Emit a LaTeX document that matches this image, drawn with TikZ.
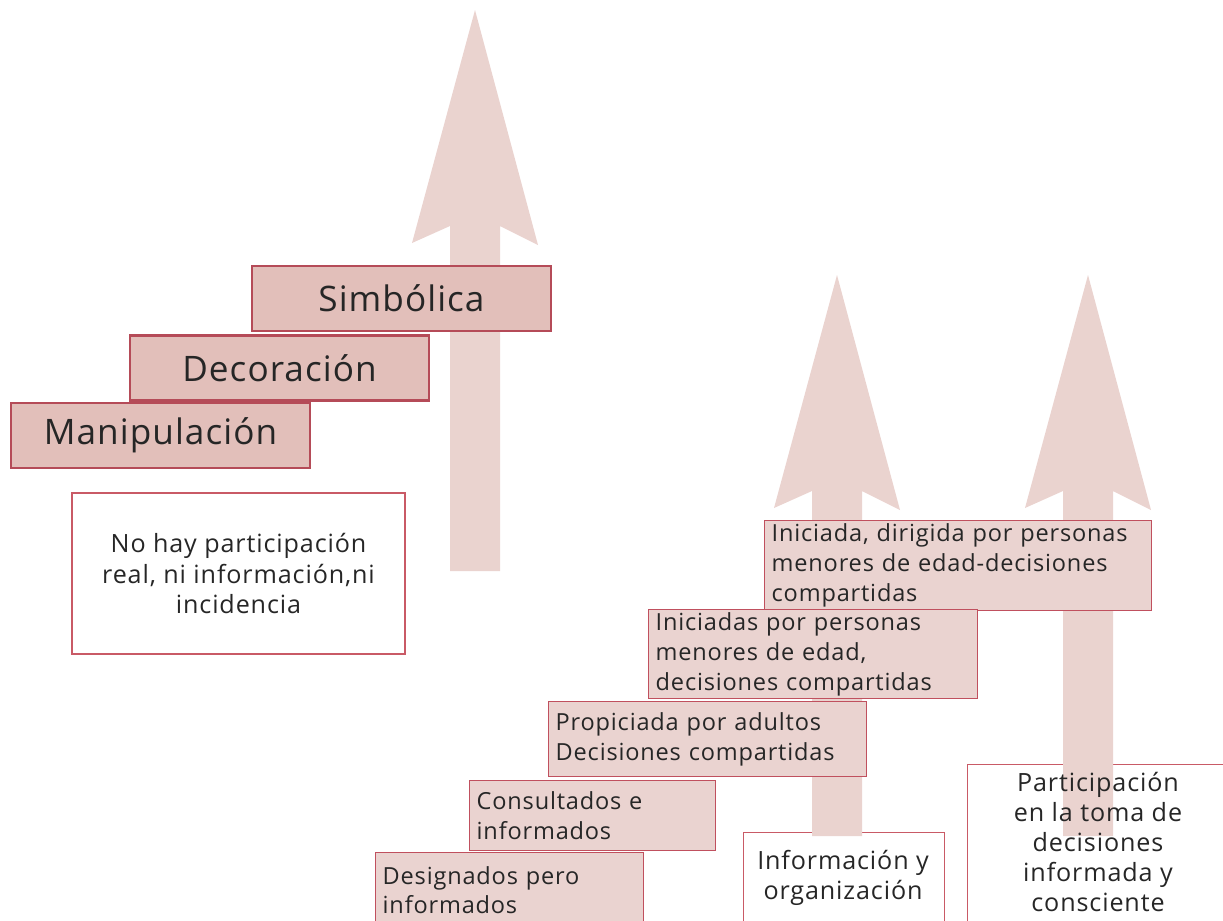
\documentclass[tikz,border=0pt]{standalone}
\usepackage{fontspec}
\setmainfont{Open Sans}
\usetikzlibrary{positioning}

\definecolor{arrowpink}{HTML}{EAD3CF}
\definecolor{stepfill}{HTML}{E2BFBA}
\definecolor{stepline}{HTML}{B54B58}
\definecolor{ladderfill}{HTML}{EAD3D0}
\definecolor{ladderline}{HTML}{C0505E}
\definecolor{frameline}{HTML}{C95A66}
\definecolor{inktext}{HTML}{262626}

\newdimen\pxu
\pxu=0.02cm

\tikzset{
  arrowbody/.style={fill=arrowpink, draw=none},
  stepbox/.style={draw=stepline, line width=1.6pt, fill=stepfill,
    minimum width=299\pxu, minimum height=65\pxu, inner sep=0pt,
    text=inktext, font=\fontsize{20}{24}\selectfont\addfontfeature{LetterSpace=3}},
  ladder/.style={draw=ladderline, line width=0.8pt, fill=ladderfill,
    anchor=north west, align=left, inner xsep=7\pxu, inner ysep=0pt,
    text=inktext, font=\fontsize{13.4}{17}\selectfont\addfontfeature{LetterSpace=3.5}},
  outframe/.style={draw=frameline, line width=0.6pt, anchor=north west, inner sep=0pt},
  outtext/.style={align=center, text=inktext,
    font=\fontsize{14.3}{17.2}\selectfont\addfontfeature{LetterSpace=3.5}}
}

\begin{document}
\begin{tikzpicture}[x=0.02cm, y=-0.02cm]
  \useasboundingbox (0,0) rectangle (1223,920);
  \clip (0,0) rectangle (1223,920);

  % frames that sit under the arrows
  \node[outframe, minimum width=201\pxu, minimum height=110\pxu] (infoframe) at (743,832) {};
  \node[outframe, minimum width=280\pxu, minimum height=180\pxu] (partframe) at (967,764) {};

  % block arrows
  \foreach \cx/\ty/\by in {475/10/571, 837/275/836, 1088/275/836} {
    \fill[arrowbody] (\cx,\ty) -- (\cx+63,\ty+235) -- (\cx+25,\ty+216) -- (\cx+25,\by)
      -- (\cx-25,\by) -- (\cx-25,\ty+216) -- (\cx-63,\ty+233) -- cycle;
  }

  % left side
  \node[stepbox] (simb)  at (401.5,298.5) {Simbólica};
  \node[stepbox] (decor) at (279.5,368)   {Decoración};
  \node[stepbox] (manip) at (160.5,435.5) {Manipulación};

  \node[draw=frameline, line width=0.6pt, minimum width=333\pxu, minimum height=161\pxu,
    outtext] (nohay) at (238.5,573.5) {No hay participación\\real, ni información,ni\\incidencia};

  % right side ladder
  \node[ladder, minimum height=90\pxu, text width=373\pxu] (iniciada) at (764,520)
    {Iniciada, dirigida por personas\\menores de edad-decisiones\\compartidas};
  \node[ladder, minimum height=89\pxu, text width=315\pxu] (iniciadas) at (648,609)
    {Iniciadas por personas\\menores de edad,\\decisiones compartidas};
  \node[ladder, minimum height=75\pxu, text width=304\pxu] (propiciada) at (548,701)
    {Propiciada por adultos\\Decisiones compartidas};
  \node[ladder, minimum height=70\pxu, text width=232\pxu] (consultados) at (469,780)
    {Consultados e\\informados};
  \node[ladder, minimum height=75\pxu, text width=254\pxu] (designados) at (375,852)
    {Designados pero\\informados};

  % texts over the arrows
  \node[outtext] (info) at (843,878) {Información y\\organización};
  \node[outtext] (part) at (1098,842) {Participación\\en la toma de\\decisiones\\informada y\\consciente};
\end{tikzpicture}
\end{document}
